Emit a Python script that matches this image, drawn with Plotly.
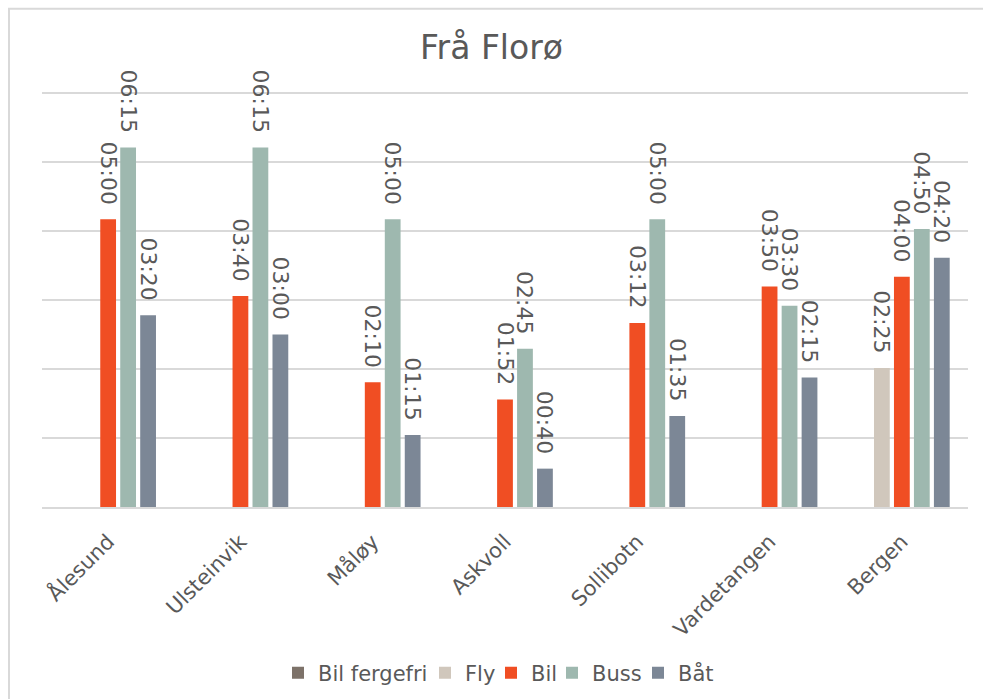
import plotly.graph_objects as go

# Travel times from Florø, in minutes
categories = ["Ålesund", "Ulsteinvik", "Måløy", "Askvoll", "Sollibotn", "Vardetangen", "Bergen"]
bil_fergefri = [None, None, None, None, None, None, None]
fly = [None, None, None, None, None, None, 145]
bil = [300, 220, 130, 112, 192, 230, 240]
buss = [375, 375, 300, 165, 300, 210, 290]
baat = [200, 180, 75, 40, 95, 135, 260]
series_names = ["Bil fergefri", "Fly", "Bil", "Buss", "Båt"]

colors = ["#7d7269", "#d0c7bc", "#f04e23", "#9eb8af", "#7c8796"]

FONT = "DejaVu Sans"
GREY = "#595959"

W, H = 983, 699
# value axis: 0 .. 432 min spans pixel rows 507 .. 93
Y_TOP = 438
PL, PR, PB = 42, 968, 507
PX_PER_MIN = (507 - 93) / 432
PT = PB - Y_TOP * PX_PER_MIN
# left edge (px) of each legend entry
legend_left = [278, 425, 491, 552, 638]
LEGEND_Y = 673


def hhmm(minutes):
    if minutes is None:
        return ""
    # trailing spaces keep the label clear of the bar top
    return f"{int(minutes) // 60:02d}:{int(minutes) % 60:02d}\u00a0\u2009"


def px_x(px):
    return (px - PL) / (PR - PL)


def px_y(py):
    return (PB - py) / (PB - PT)


fig = go.Figure()
all_values = [bil_fergefri, fly, bil, buss, baat]
for i, (name, values, color) in enumerate(zip(series_names, all_values, colors)):
    legend_id = "legend" if i == 0 else f"legend{i + 1}"
    fig.add_trace(go.Bar(
        name=name,
        x=categories,
        y=values,
        marker=dict(color=color, line=dict(width=0)),
        text=[hhmm(v) for v in values],
        textposition="outside",
        textangle=90,
        constraintext="none",
        cliponaxis=False,
        textfont=dict(family=FONT, size=22, color=GREY),
        hoverinfo="skip",
        legend=legend_id,
    ))
    fig.update_layout({legend_id: dict(
        orientation="h",
        x=px_x(legend_left[i]),
        xanchor="left",
        y=px_y(LEGEND_Y),
        yanchor="middle",
        font=dict(family=FONT, size=21, color=GREY),
        itemwidth=30,
        bgcolor="rgba(0,0,0,0)",
    )})

fig.update_layout(
    width=W,
    height=H,
    margin=dict(l=PL, r=W - PR, t=PT, b=H - PB, autoexpand=False),
    paper_bgcolor="white",
    plot_bgcolor="white",
    barmode="group",
    bargap=0.245,
    bargroupgap=0.21,
    title=dict(
        text="Frå Florø",
        x=0.5,
        xanchor="center",
        y=1 - 47 / H,
        yanchor="middle",
        font=dict(family=FONT, size=33, color=GREY),
    ),
    font=dict(family=FONT, color=GREY),
    showlegend=True,
    xaxis=dict(
        tickangle=-45,
        tickfont=dict(family=FONT, size=21, color=GREY),
        ticklabelstandoff=12,
        automargin=False,
        showgrid=False,
        showline=True,
        linecolor="#d9d9d9",
        linewidth=2,
        ticks="",
    ),
    yaxis=dict(
        range=[0, Y_TOP],
        dtick=72,
        tick0=0,
        showticklabels=False,
        automargin=False,
        showgrid=True,
        gridcolor="#d9d9d9",
        gridwidth=1.5,
        zeroline=False,
        ticks="",
        showline=False,
    ),
    shapes=[dict(
        type="rect",
        xref="paper",
        yref="paper",
        x0=px_x(9),
        x1=px_x(1000),
        y0=px_y(720),
        y1=px_y(9),
        line=dict(color="#d9d9d9", width=2),
        fillcolor="rgba(0,0,0,0)",
        layer="below",
    )],
)

fig.write_html("out.html")
